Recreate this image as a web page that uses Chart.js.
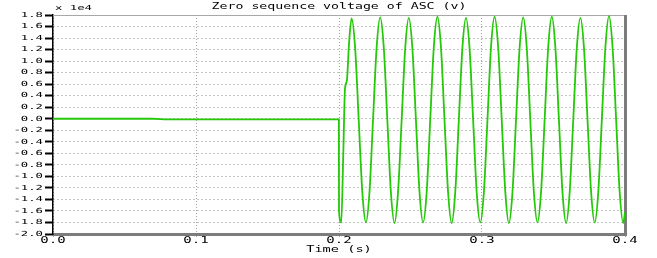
<!DOCTYPE html>
<html>
<head>
<meta charset="utf-8">
<script src="https://cdn.jsdelivr.net/npm/chart.js@4"></script>
<style>
  body { margin: 0; background: #fff; }
  #wrap { width: 657px; height: 258px; }
</style>
</head>
<body>
<div id="wrap"><canvas id="myChart" width="657" height="258"></canvas></div>
<script>
// zero sequence voltage, values in units of 1e4 V
const chartTitle = 'Zero sequence voltage of ASC (v)'
const xTitle = 'Time (s)'
const yMultiplier = 'x 1e4'

const time = [
  0, 0.07, 0.08, 0.1999,
  0.2000, 0.2016, 0.2030, 0.2042, 0.2055, 0.2070,
  0.2088, 0.2113, 0.2138, 0.2163, 0.2188, 0.2213, 0.2238, 0.2263,
  0.2288, 0.2313, 0.2338, 0.2363, 0.2388, 0.2413, 0.2438, 0.2463,
  0.2488, 0.2513, 0.2538, 0.2563, 0.2588, 0.2613, 0.2638, 0.2663,
  0.2688, 0.2713, 0.2738, 0.2763, 0.2788, 0.2813, 0.2838, 0.2863,
  0.2888, 0.2913, 0.2938, 0.2963, 0.2988, 0.3013, 0.3038, 0.3063,
  0.3088, 0.3113, 0.3138, 0.3163, 0.3188, 0.3213, 0.3238, 0.3263,
  0.3288, 0.3313, 0.3338, 0.3363, 0.3388, 0.3413, 0.3438, 0.3463,
  0.3488, 0.3513, 0.3538, 0.3563, 0.3588, 0.3613, 0.3638, 0.3663,
  0.3688, 0.3713, 0.3738, 0.3763, 0.3788, 0.3813, 0.3838, 0.3863,
  0.3888, 0.3913, 0.3938, 0.3963, 0.3988,
  0.4000
]

const voltage = [
  0, 0, -0.01, -0.01,
  -1.60, -1.80, -0.60, 0.52, 0.66, 1.30,
  1.74, 1.22, -0.03, -1.27, -1.80, -1.28, -0.02, 1.23,
  1.76, 1.24, -0.02, -1.28, -1.81, -1.27, -0.03, 1.22,
  1.75, 1.23, -0.02, -1.27, -1.80, -1.28, -0.02, 1.24,
  1.77, 1.24, -0.03, -1.28, -1.81, -1.27, -0.02, 1.23,
  1.75, 1.22, -0.02, -1.28, -1.80, -1.28, -0.03, 1.24,
  1.77, 1.24, -0.02, -1.27, -1.81, -1.28, -0.02, 1.23,
  1.76, 1.23, -0.03, -1.28, -1.80, -1.27, -0.02, 1.24,
  1.77, 1.24, -0.02, -1.28, -1.81, -1.28, -0.03, 1.23,
  1.75, 1.23, -0.02, -1.27, -1.80, -1.28, -0.02, 1.24,
  1.78, 1.24, -0.02, -1.28, -1.81,
  -1.62
]

const xMin = 0, xMax = 0.4, xStep = 0.1
const yMin = -2.0, yMax = 1.8, yStep = 0.2

function fmt(v) {
  if (Math.abs(v) < 1e-9) return '0.0'
  return v.toFixed(1)
}

// the picture's text is wide and short, so draw it stretched sideways
function wideText(ctx, text, x, y, size, sx, align) {
  ctx.save()
  ctx.font = size + 'px "DejaVu Sans Mono"'
  ctx.textBaseline = 'middle'
  ctx.textAlign = 'left'
  ctx.fillStyle = '#000'
  const w = ctx.measureText(text).width * sx
  let left = x
  if (align === 'right') left = x - w
  if (align === 'center') left = x - w / 2
  ctx.translate(left, y)
  ctx.scale(sx, 1)
  ctx.fillText(text, 0, 0)
  ctx.restore()
}

const framePlugin = {
  id: 'frame',
  beforeDatasetsDraw(chart) {
    const ctx = chart.ctx
    const a = chart.chartArea
    ctx.save()
    ctx.strokeStyle = '#a8a8a8'
    ctx.lineWidth = 1
    ctx.beginPath()
    ctx.moveTo(a.left, a.top + 0.5)
    ctx.lineTo(a.right, a.top + 0.5)
    ctx.stroke()
    ctx.strokeStyle = '#7c7c7c'
    ctx.lineWidth = 3
    ctx.beginPath()
    ctx.moveTo(a.right + 0.5, a.top)
    ctx.lineTo(a.right + 0.5, a.bottom + 2)
    ctx.stroke()
    ctx.restore()
  },
  afterDraw(chart) {
    const ctx = chart.ctx
    const a = chart.chartArea
    const xs = chart.scales.x
    const ys = chart.scales.y
    ys.ticks.forEach(t => {
      wideText(ctx, fmt(t.value), a.left - 10, ys.getPixelForValue(t.value), 7, 1.75, 'right')
    })
    xs.ticks.forEach(t => {
      wideText(ctx, fmt(t.value), xs.getPixelForValue(t.value), 241, 8.5, 1.65, 'center')
    })
    wideText(ctx, xTitle, (a.left + a.right) / 2, 249.5, 8.5, 1.6, 'center')
    wideText(ctx, chartTitle, (a.left + a.right) / 2, 6.5, 9, 1.47, 'center')
    wideText(ctx, yMultiplier, a.left + 2, 8, 7, 1.75, 'left')
  }
}

const points = time.map((t, i) => ({ x: t, y: voltage[i] }))

const config = {
  type: 'line',
  data: {
    datasets: [{
      label: 'Zero sequence voltage',
      data: points,
      borderColor: '#26c80a',
      borderWidth: 1.8,
      pointRadius: 0,
      cubicInterpolationMode: 'monotone',
      fill: false
    }]
  },
  options: {
    responsive: false,
    animation: false,
    devicePixelRatio: 1,
    layout: { padding: { left: 0, right: 32, top: 15, bottom: 0 } },
    plugins: {
      legend: { display: false },
      title: { display: false },
      tooltip: { enabled: false }
    },
    scales: {
      x: {
        type: 'linear',
        min: xMin,
        max: xMax,
        ticks: { stepSize: xStep, display: false },
        grid: {
          color: '#a0a0a0',
          tickLength: 3,
          tickColor: '#a0a0a0',
          tickBorderDash: [1, 2]
        },
        border: { color: '#7c7c7c', width: 3, dash: [1, 2] },
        afterFit(scale) { scale.height = 24 }
      },
      y: {
        min: yMin,
        max: yMax,
        ticks: { stepSize: yStep, display: false },
        grid: {
          color: '#8c8c8c',
          tickLength: 8,
          tickColor: '#000',
          tickWidth: 2,
          tickBorderDash: []
        },
        border: { color: '#000', width: 1.5, dash: [1, 3] },
        afterFit(scale) { scale.width = 53 }
      }
    }
  },
  plugins: [framePlugin]
}

const myChart = new Chart(document.getElementById('myChart'), config)
</script>
</body>
</html>
